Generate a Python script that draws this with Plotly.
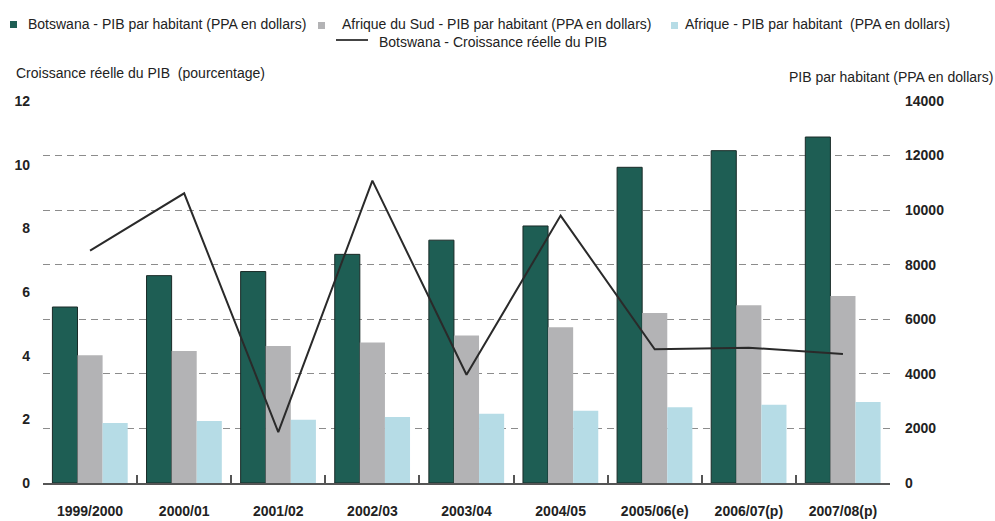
import plotly.graph_objects as go

# Fiscal years
categories = ["1999/2000", "2000/01", "2001/02", "2002/03", "2003/04",
              "2004/05", "2005/06(e)", "2006/07(p)", "2007/08(p)"]

# GDP per capita, PPP dollars (right axis)
botswana_pib = [6450, 7600, 7750, 8380, 8900, 9420, 11570, 12180, 12680]
afrique_sud_pib = [4680, 4840, 5020, 5150, 5410, 5710, 6230, 6510, 6850]
afrique_pib = [2200, 2270, 2320, 2420, 2540, 2650, 2780, 2870, 2970]

# Botswana real GDP growth, percent (left axis)
botswana_croissance = [7.3, 9.1, 1.6, 9.5, 3.4, 8.4, 4.2, 4.25, 4.05]

series_names = [
    "Botswana - PIB par habitant (PPA en dollars)",
    "Afrique du Sud - PIB par habitant (PPA en dollars)",
    "Afrique - PIB par habitant  (PPA en dollars)",
    "Botswana - Croissance réelle du PIB",
]

TEAL = "#1e5e54"
GREY = "#b3b3b5"
LIGHT_BLUE = "#b6dce6"
LINE = "#2a2a2a"
FONT = "Liberation Sans, Arial, sans-serif"

W, H = 995, 521
ML, MR, MT, MB = 43, 105, 101, 38
PW, PH = W - ML - MR, H - MT - MB


def px(x):
    return (x - ML) / PW


def py(y):
    return (H - MB - y) / PH


fig = go.Figure()
fig.add_bar(x=categories, y=botswana_pib, name=series_names[0],
            marker=dict(color=TEAL, line=dict(color="#1a2b28", width=1)))
fig.add_bar(x=categories, y=afrique_sud_pib, name=series_names[1],
            marker=dict(color=GREY, line=dict(width=0)))
fig.add_bar(x=categories, y=afrique_pib, name=series_names[2],
            marker=dict(color=LIGHT_BLUE, line=dict(width=0)))
fig.add_scatter(x=categories, y=botswana_croissance, name=series_names[3],
                mode="lines", yaxis="y2", line=dict(color=LINE, width=2))

# Hand-placed legend: three swatches on the first row, the line on the second
annotations = []
shapes = []
legend_rows = [
    (10, 21, TEAL, 26, 23.5, series_names[0]),
    (318, 22, GREY, 340, 24, series_names[1]),
    (671, 22, LIGHT_BLUE, 683, 24, series_names[2]),
]
for sx, sy, col, tx, ty, label in legend_rows:
    shapes.append(dict(type="rect", xref="paper", yref="paper",
                       x0=px(sx), x1=px(sx + 7), y0=py(sy + 7), y1=py(sy),
                       fillcolor=col, line=dict(width=0)))
    annotations.append(dict(text=label, xref="paper", yref="paper",
                            x=px(tx), y=py(ty), xanchor="left", yanchor="middle",
                            showarrow=False, font=dict(family=FONT, size=14, color="#222")))
shapes.append(dict(type="line", xref="paper", yref="paper",
                   x0=px(336), x1=px(368), y0=py(40), y1=py(40),
                   line=dict(color="#444", width=2)))
annotations.append(dict(text=series_names[3], xref="paper", yref="paper",
                        x=px(377), y=py(42), xanchor="left", yanchor="middle",
                        showarrow=False, font=dict(family=FONT, size=14, color="#222")))

# Axis titles
annotations.append(dict(text="Croissance réelle du PIB  (pourcentage)", xref="paper", yref="paper",
                        x=px(14), y=py(73), xanchor="left", yanchor="middle",
                        showarrow=False, font=dict(family=FONT, size=14, color="#222")))
annotations.append(dict(text="PIB par habitant (PPA en dollars)", xref="paper", yref="paper",
                        x=px(787), y=py(77), xanchor="left", yanchor="middle",
                        showarrow=False, font=dict(family=FONT, size=14, color="#222")))

fig.update_layout(
    width=W, height=H,
    margin=dict(l=ML, r=MR, t=MT, b=MB, pad=0),
    paper_bgcolor="white", plot_bgcolor="white",
    barmode="group", bargap=0.2, bargroupgap=0,
    showlegend=False,
    font=dict(family=FONT, color="#222"),
    xaxis=dict(
        automargin=False,
        showline=True, linecolor="#555", linewidth=1.5,
        ticks="inside", ticklen=8, tickcolor="#555", tickwidth=1.5,
        tickson="boundaries", showgrid=False,
        tickfont=dict(family=FONT, size=14, color="#222", weight="bold"),
        ticklabelstandoff=14,
    ),
    yaxis=dict(
        automargin=False,
        side="right", range=[0, 14000], dtick=2000, tickformat="d",
        showgrid=True, gridcolor="#8c8c8c", gridwidth=1, griddash="7px,5px",
        zeroline=False, showline=False, ticks="",
        tickfont=dict(family=FONT, size=14, color="#222", weight="bold"),
        ticklabelstandoff=14,
    ),
    yaxis2=dict(
        automargin=False,
        side="left", overlaying="y", range=[0, 12], dtick=2,
        showgrid=False, zeroline=False, showline=False, ticks="",
        tickfont=dict(family=FONT, size=14, color="#222", weight="bold"),
        ticklabelstandoff=12,
    ),
    shapes=shapes,
    annotations=annotations,
)

fig.write_html("out.html")
